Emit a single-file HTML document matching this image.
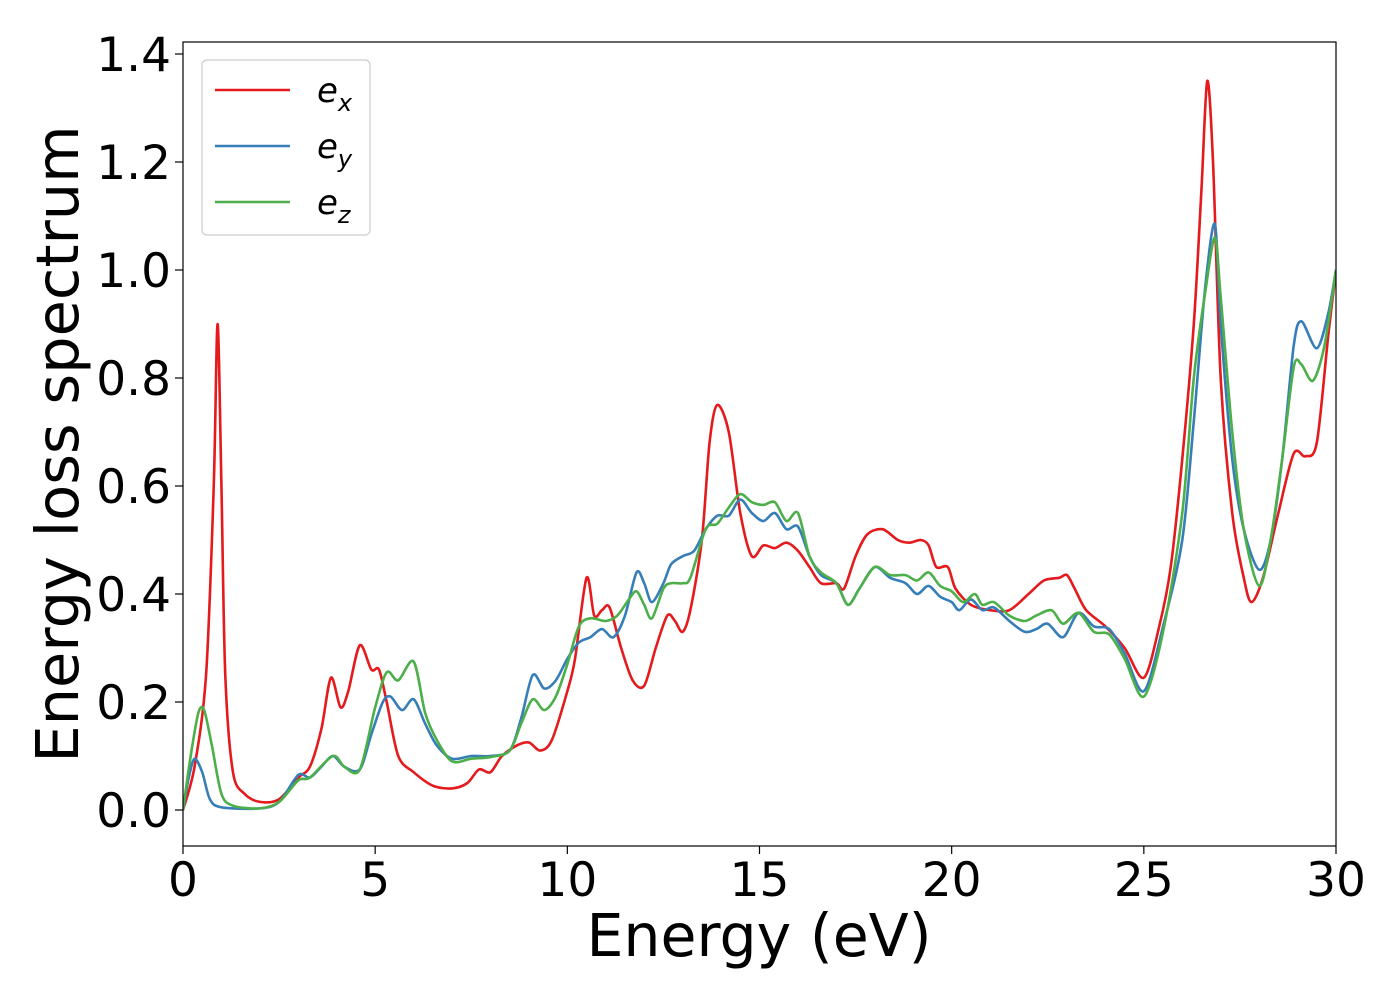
<!DOCTYPE html>
<html><head><meta charset="utf-8"><style>
body{margin:0;background:#fff;}
svg text{font-family:"DejaVu Sans","Liberation Sans",sans-serif;}
</style></head><body>
<svg id="chart" width="1400" height="1000" viewBox="0 0 1400 1000" xmlns="http://www.w3.org/2000/svg">
<rect width="1400" height="1000" fill="#fff"/>
<g id="plot"></g>
</svg>
<script>
const xTicks=[0,5,10,15,20,25,30];
const yTicks=[0.0,0.2,0.4,0.6,0.8,1.0,1.2,1.4];
const seriesNames=["e_x","e_y","e_z"];
const exX=[0,0.3,0.6,0.8,0.9,1.0,1.1,1.3,1.6,2,2.5,3,3.3,3.6,3.85,4.1,4.3,4.6,4.9,5.1,5.3,5.6,6,6.5,7,7.4,7.7,8,8.3,8.7,9,9.3,9.6,10,10.2,10.5,10.7,10.9,11.1,11.4,11.7,12,12.3,12.6,12.8,13.0,13.2,13.5,13.7,13.9,14.2,14.5,14.8,15.1,15.4,15.7,16,16.3,16.6,17,17.2,17.5,17.8,18.2,18.6,18.9,19.2,19.4,19.6,19.9,20.1,20.5,21,21.5,22,22.4,22.8,23,23.2,23.5,24,24.5,25,25.4,25.7,26,26.3,26.5,26.65,26.8,27,27.3,27.6,27.8,28.1,28.5,28.9,29.2,29.5,29.8,30];
const exY=[0,0.08,0.25,0.6,0.9,0.6,0.25,0.07,0.03,0.015,0.02,0.06,0.08,0.15,0.245,0.19,0.22,0.305,0.26,0.26,0.2,0.1,0.07,0.045,0.04,0.05,0.075,0.07,0.1,0.12,0.125,0.11,0.13,0.22,0.28,0.43,0.36,0.37,0.375,0.3,0.24,0.23,0.3,0.36,0.35,0.33,0.37,0.5,0.68,0.75,0.7,0.55,0.47,0.49,0.485,0.495,0.48,0.45,0.42,0.42,0.41,0.47,0.51,0.52,0.5,0.495,0.5,0.49,0.45,0.45,0.41,0.38,0.37,0.37,0.4,0.425,0.43,0.435,0.41,0.37,0.34,0.3,0.245,0.34,0.45,0.65,0.9,1.15,1.35,1.2,0.8,0.55,0.43,0.385,0.43,0.55,0.66,0.655,0.68,0.88,1.0];
const eyX=[0,0.15,0.3,0.5,0.7,1,2,2.5,3,3.3,3.6,3.9,4.2,4.6,4.9,5.2,5.4,5.7,6,6.3,6.6,7,7.5,8,8.5,8.8,9.1,9.4,9.7,10,10.3,10.6,10.9,11.2,11.5,11.8,12,12.2,12.5,12.7,13,13.3,13.6,13.9,14.2,14.5,14.8,15.1,15.4,15.7,16,16.3,16.6,17,17.3,17.6,18,18.4,18.8,19.1,19.4,19.7,20,20.2,20.5,20.8,21.1,21.5,21.9,22.2,22.5,22.9,23.3,23.7,24.1,24.5,25,25.5,26,26.3,26.6,26.85,27,27.3,27.6,28,28.3,28.6,28.9,29.1,29.5,29.8,30];
const eyY=[0,0.06,0.095,0.07,0.02,0.005,0.003,0.015,0.065,0.06,0.08,0.1,0.08,0.075,0.14,0.2,0.21,0.185,0.205,0.16,0.12,0.095,0.1,0.1,0.11,0.17,0.25,0.225,0.24,0.28,0.31,0.32,0.335,0.32,0.36,0.44,0.42,0.385,0.42,0.455,0.47,0.48,0.52,0.545,0.545,0.575,0.55,0.535,0.55,0.52,0.525,0.47,0.435,0.42,0.38,0.41,0.45,0.43,0.42,0.4,0.415,0.395,0.385,0.37,0.39,0.37,0.375,0.35,0.33,0.335,0.345,0.32,0.365,0.34,0.335,0.29,0.22,0.34,0.5,0.72,0.97,1.085,0.9,0.65,0.52,0.445,0.5,0.65,0.86,0.905,0.855,0.92,1.0];
const ezX=[0,0.2,0.4,0.55,0.75,1,1.3,2,2.5,3,3.3,3.9,4.2,4.6,5,5.3,5.6,6,6.3,6.6,7,7.5,8,8.5,8.8,9.1,9.4,9.7,10,10.3,10.6,11,11.3,11.6,11.8,12,12.2,12.5,12.7,13,13.2,13.6,13.9,14.2,14.5,14.8,15.1,15.4,15.7,16,16.3,16.6,17,17.3,17.6,18,18.4,18.8,19.1,19.4,19.7,20,20.3,20.6,20.8,21.1,21.5,21.9,22.2,22.6,22.9,23.3,23.7,24.1,24.5,25,25.5,26,26.3,26.6,26.85,27,27.3,27.6,28,28.3,28.6,28.9,29.1,29.4,29.7,30];
const ezY=[0,0.1,0.18,0.185,0.12,0.03,0.008,0.003,0.015,0.055,0.06,0.1,0.08,0.075,0.19,0.255,0.24,0.275,0.18,0.13,0.09,0.095,0.098,0.11,0.16,0.205,0.185,0.21,0.27,0.34,0.355,0.35,0.36,0.39,0.405,0.38,0.355,0.41,0.42,0.42,0.43,0.52,0.53,0.56,0.585,0.57,0.565,0.57,0.535,0.55,0.47,0.44,0.42,0.38,0.41,0.45,0.435,0.435,0.425,0.44,0.415,0.405,0.385,0.4,0.38,0.385,0.36,0.35,0.36,0.37,0.345,0.365,0.33,0.325,0.28,0.21,0.33,0.55,0.8,0.96,1.06,0.95,0.7,0.52,0.415,0.5,0.65,0.82,0.825,0.795,0.86,1.0];

const L=183,R=1336,T=42,B=846;
const sx=v=>L+(v-0)/(30-0)*(R-L);
const sy=v=>810-v/1.4*756;
const NS="http://www.w3.org/2000/svg";
const g=document.getElementById('plot');
function mk(tag,attrs,parent){const e=document.createElementNS(NS,tag);for(const k in attrs)e.setAttribute(k,attrs[k]);(parent||g).appendChild(e);return e;}
function smoothPath(xs,ys){
  const p=xs.map((x,i)=>[sx(x),sy(ys[i])]);
  let d=`M${p[0][0]},${p[0][1]}`;
  for(let i=0;i<p.length-1;i++){
    const p0=p[Math.max(0,i-1)],p1=p[i],p2=p[i+1],p3=p[Math.min(p.length-1,i+2)];
    const t=0.15;
    d+=` C${p1[0]+(p2[0]-p0[0])*t},${p1[1]+(p2[1]-p0[1])*t} ${p2[0]-(p3[0]-p1[0])*t},${p2[1]-(p3[1]-p1[1])*t} ${p2[0]},${p2[1]}`;
  }
  return d;
}
const clip=mk('clipPath',{id:'clip'});mk('rect',{x:L,y:T,width:R-L,height:B-T},clip);
const lines=[[exX,exY,'#e41a1c','series-e-x'],[eyX,eyY,'#377eb8','series-e-y'],[ezX,ezY,'#4daf4a','series-e-z']];
lines.forEach(([xs,ys,c,n])=>{const e=mk('path',{d:smoothPath(xs,ys),fill:'none',stroke:c,'stroke-width':2.6,'clip-path':'url(#clip)','stroke-linejoin':'round'});

});
const frame=mk('rect',{x:L,y:T,width:R-L,height:B-T,fill:'none',stroke:'#000','stroke-width':1.2});


xTicks.forEach(v=>{const x=sx(v);mk('line',{x1:x,x2:x,y1:B,y2:B+8,stroke:'#000','stroke-width':1.2});
const t=mk('text',{x:x,y:B+50,'font-size':47,'text-anchor':'middle'});t.textContent=v;

});
yTicks.forEach(v=>{const y=sy(v);mk('line',{x1:L-8,x2:L,y1:y,y2:y,stroke:'#000','stroke-width':1.2});
const t=mk('text',{x:L-12,y:y+17,'font-size':47,'text-anchor':'end'});t.textContent=v.toFixed(1);

});
const xl=mk('text',{x:759,y:956,'font-size':58.5,'text-anchor':'middle'});xl.textContent='Energy (eV)';


const yl=mk('text',{x:0,y:0,'font-size':59,'text-anchor':'middle',transform:'translate(78,444) rotate(-90)'});yl.textContent='Energy loss spectrum';


const lg=mk('g',{});


mk('rect',{x:202,y:60,width:168,height:175,rx:5,fill:'#fff',stroke:'#ccc','stroke-width':1.2},lg);
const subs=['x','y','z'];
lines.forEach(([a,b,c],i)=>{const y=90+i*56;
mk('line',{x1:215,x2:290,y1:y,y2:y,stroke:c,'stroke-width':2.6},lg);
const t=mk('text',{x:317,y:y+12,'font-size':34,'font-style':'italic'},lg);


t.appendChild(document.createTextNode('e'));
const s=document.createElementNS(NS,'tspan');s.setAttribute('font-size',24);s.setAttribute('dy',9);s.textContent=subs[i];t.appendChild(s);});
</script>
</body></html>
